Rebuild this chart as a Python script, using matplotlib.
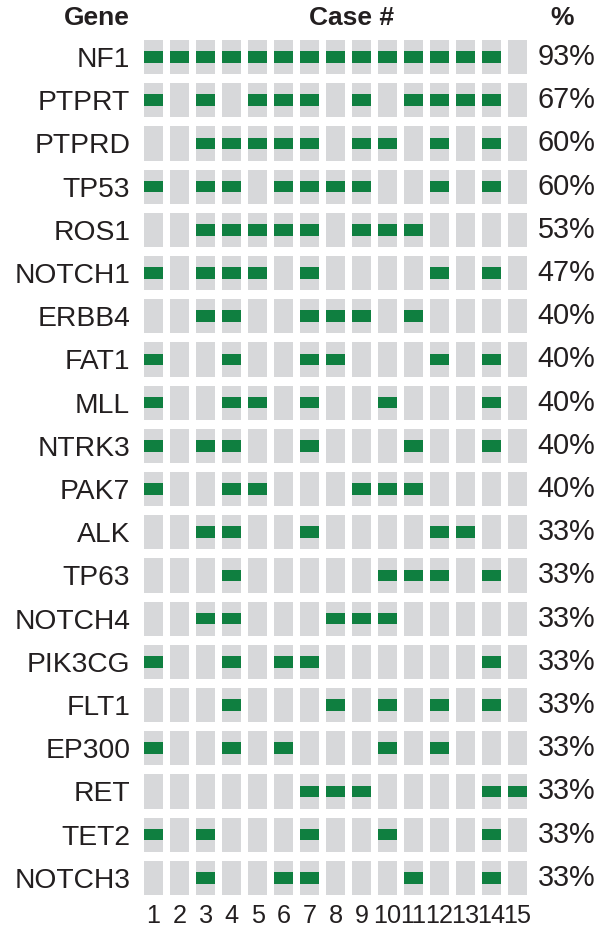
import matplotlib.pyplot as plt

plt.rcParams['font.family'] = ['Liberation Sans', 'DejaVu Sans']

genes = ['NF1', 'PTPRT', 'PTPRD', 'TP53', 'ROS1', 'NOTCH1', 'ERBB4', 'FAT1',
         'MLL', 'NTRK3', 'PAK7', 'ALK', 'TP63', 'NOTCH4', 'PIK3CG', 'FLT1',
         'EP300', 'RET', 'TET2', 'NOTCH3']
cases = list(range(1, 16))
# mutated case numbers for each gene
mutated = [
    [1, 2, 3, 4, 5, 6, 7, 8, 9, 10, 11, 12, 13, 14],
    [1, 3, 5, 6, 7, 9, 11, 12, 13, 14],
    [3, 4, 5, 6, 7, 9, 10, 12, 14],
    [1, 3, 4, 6, 7, 8, 9, 12, 14],
    [3, 4, 5, 6, 7, 9, 10, 11],
    [1, 3, 4, 5, 7, 12, 14],
    [3, 4, 7, 8, 9, 11],
    [1, 4, 7, 8, 12, 14],
    [1, 4, 5, 7, 10, 14],
    [1, 3, 4, 7, 11, 14],
    [1, 4, 5, 9, 10, 11],
    [3, 4, 7, 12, 13],
    [4, 10, 11, 12, 14],
    [3, 4, 8, 9, 10],
    [1, 4, 6, 7, 14],
    [4, 8, 10, 12, 14],
    [1, 4, 6, 10, 12],
    [7, 8, 9, 14, 15],
    [1, 3, 7, 10, 14],
    [3, 6, 7, 11, 14],
]
percent = ['93%', '67%', '60%', '60%', '53%', '47%', '40%', '40%', '40%', '40%',
           '40%', '33%', '33%', '33%', '33%', '33%', '33%', '33%', '33%', '33%']

gray = '#d7d8da'
green = '#0f7f40'
txt = '#231f20'

fig = plt.figure(figsize=(6, 9.31), dpi=100)
ax = fig.add_axes([0.2343, 0.0339, 0.65, 0.928])

rows = list(range(1, len(genes) + 1))
for r, g in zip(rows, genes):
    ax.bar(cases, 0.79, bottom=r - 0.395, width=0.74, color=gray, linewidth=0)
    ax.bar(mutated[r - 1], 0.27, bottom=r - 0.135, width=0.74, color=green, linewidth=0)

ax.set_xlim(0.5, 15.5)
ax.set_ylim(20.5, 0.5)
for s in ax.spines.values():
    s.set_visible(False)

ax.set_yticks(rows)
ax.set_yticklabels(genes, fontsize=20.3, color=txt)
ax.set_xticks(cases)
ax.set_xticklabels([str(c) for c in cases], fontsize=18.2, color=txt)
ax.tick_params(axis='y', length=0, pad=7.5)
ax.tick_params(axis='x', length=0, pad=3)

for r, p in zip(rows, percent):
    ax.text(15.78, r, p, fontsize=20.8, color=txt, ha='left', va='center', clip_on=False)

ax.text(0.09, 0.1, 'Gene', fontsize=19, fontweight='bold', color=txt,
        ha='right', va='center', clip_on=False)
ax.text(8.63, 0.1, 'Case #', fontsize=19, fontweight='bold', color=txt,
        ha='center', va='center', clip_on=False)
ax.text(16.71, 0.1, '%', fontsize=19, fontweight='bold', color=txt,
        ha='center', va='center', clip_on=False)

fig.savefig('out.png', dpi=100)
